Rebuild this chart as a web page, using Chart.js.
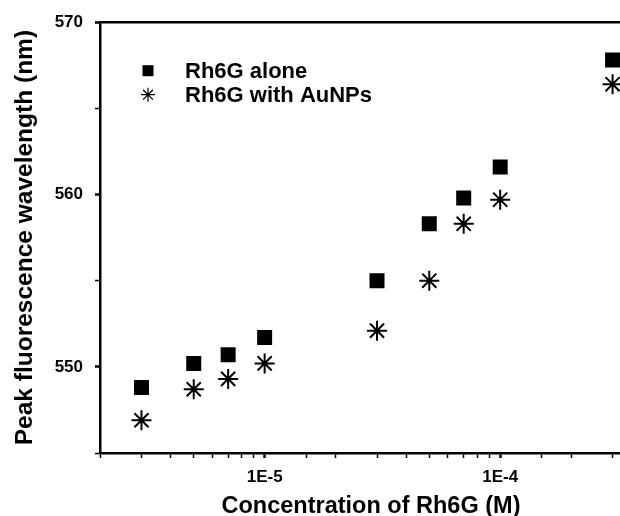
<!DOCTYPE html>
<html><head><meta charset="utf-8">
<script src="https://cdn.jsdelivr.net/npm/chart.js@4"></script>
<style>
html,body{margin:0;padding:0;background:#fff;overflow:hidden}
#wrap{width:620px;height:516px;overflow:hidden;position:relative;background:#fff}
canvas{display:block}
</style></head><body>
<div id="wrap"><canvas id="c" width="654" height="516"></canvas></div>
<script>
// ---- data ----
const concentrations = [3e-6, 5e-6, 7e-6, 1e-5, 3e-5, 5e-5, 7e-5, 1e-4, 3e-4];
const rh6gAlone      = [548.8, 550.2, 550.7, 551.7, 555.0, 558.3, 559.8, 561.6, 567.8];
const rh6gWithAuNPs  = [546.9, 548.7, 549.3, 550.2, 552.1, 555.0, 558.3, 559.7, 566.4];
const seriesLabels   = ['Rh6G alone', 'Rh6G with AuNPs'];
const yTickLabels    = [550, 560, 570];
const xTickValues    = [1e-5, 1e-4];
const xTickTexts     = ['1E-5', '1E-4'];
const xTitle = 'Concentration of Rh6G (M)';
const yTitle = 'Peak fluorescence wavelength (nm)';

const FONT = "'Liberation Sans', Arial, sans-serif";

function xLabelIndex(v) {
  return xTickValues.findIndex(t => Math.abs(v / t - 1) < 1e-6);
}

const insideLegend = {
  id: 'insideLegend',
  afterDatasetsDraw(chart) {
    const ctx = chart.ctx;
    const a = chart.chartArea;
    const styles = [
      {pointStyle: 'rect', radius: 7.8, borderWidth: 0},
      {pointStyle: 'star', radius: 7, borderWidth: 1.2}
    ];
    chart.data.datasets.forEach((ds, i) => {
      const y = a.top + 48.5 + i * 24;
      const x = a.left + 48;
      ctx.save();
      ctx.fillStyle = '#000';
      ctx.strokeStyle = '#000';
      ctx.lineWidth = styles[i].borderWidth;
      Chart.helpers.drawPoint(ctx, styles[i], x, y);
      ctx.font = 'bold 22px ' + FONT;
      ctx.textBaseline = 'middle';
      ctx.textAlign = 'left';
      ctx.fillText(ds.label, a.left + 85, y + 1);
      ctx.restore();
    });
  }
};

new Chart(document.getElementById('c'), {
  type: 'scatter',
  data: {
    datasets: [
      {
        label: seriesLabels[0],
        data: concentrations.map((x, i) => ({x, y: rh6gAlone[i]})),
        pointStyle: 'rect',
        pointRadius: 10.6,
        pointHoverRadius: 10.6,
        backgroundColor: '#000',
        borderColor: '#000',
        borderWidth: 0,
        showLine: false
      },
      {
        label: seriesLabels[1],
        data: concentrations.map((x, i) => ({x, y: rh6gWithAuNPs[i]})),
        pointStyle: 'star',
        pointRadius: 10,
        pointHoverRadius: 10,
        backgroundColor: '#000',
        borderColor: '#000',
        borderWidth: 2,
        showLine: false
      }
    ]
  },
  options: {
    responsive: false,
    animation: false,
    devicePixelRatio: 1,
    layout: {padding: 0},
    plugins: {legend: {display: false}, tooltip: {enabled: false}},
    scales: {
      x: {
        type: 'logarithmic',
        position: 'bottom',
        min: 2e-6,
        max: 4e-4,
        afterFit(s) { s.height = 63; },
        ticks: {
          autoSkip: false,
          maxRotation: 0,
          color: '#000',
          padding: 9,
          font: {family: FONT, size: 17, weight: 'bold'},
          callback: (v) => { const k = xLabelIndex(v); return k >= 0 ? xTickTexts[k] : ''; }
        },
        grid: {
          display: true,
          drawOnChartArea: false,
          tickLength: 5,
          tickColor: '#000',
          tickWidth: (c) => (c.tick && xLabelIndex(c.tick.value) >= 0) ? 2.5 : 1.5
        },
        border: {display: true, color: '#000', width: 2.5},
        title: {
          display: true, text: xTitle, color: '#000',
          font: {family: FONT, size: 23.5, weight: 'bold', lineHeight: 1},
          padding: {top: 0, bottom: -2}
        }
      },
      xTop: {
        type: 'logarithmic',
        position: 'top',
        display: true,
        min: 2e-6,
        max: 4e-4,
        afterFit(s) { s.height = 22; },
        ticks: {display: false},
        grid: {display: false},
        border: {display: true, color: '#000', width: 2.5}
      },
      y: {
        type: 'linear',
        position: 'left',
        min: 545,
        max: 570,
        afterFit(s) { s.width = 100; },
        ticks: {
          stepSize: 5,
          color: '#000',
          padding: 12,
          font: {family: FONT, size: 17, weight: 'bold'},
          callback: (v) => yTickLabels.includes(v) ? String(v) : ''
        },
        grid: {
          display: true,
          drawOnChartArea: false,
          tickLength: 5,
          tickColor: '#000',
          tickWidth: (c) => (c.tick && yTickLabels.includes(c.tick.value)) ? 2.5 : 1.5
        },
        border: {display: true, color: '#000', width: 2.5},
        title: {
          display: true, text: yTitle, color: '#000',
          font: {family: FONT, size: 24.5, weight: 'bold', lineHeight: 1},
          padding: {top: 13, bottom: 0}
        }
      }
    }
  },
  plugins: [insideLegend]
});
</script>
</body></html>
